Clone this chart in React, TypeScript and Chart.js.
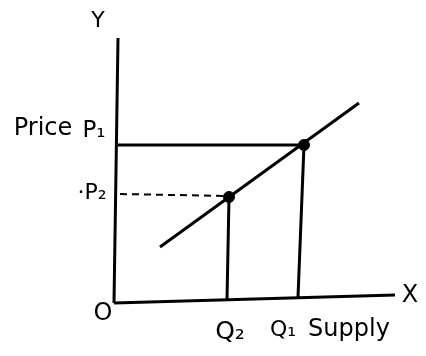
import React, { useEffect, useRef } from "react";
import { Chart, registerables } from "chart.js";

Chart.register(...registerables);

// Quantities and prices (points on the supply curve)
const quantities = [113, 188]; // Q2, Q1
const prices = [105, 157]; // P2, P1
const quantityLabels = ["Q₂", "Q₁"];
const priceLabels = ["·P₂", "P₁"];

// Supply curve end points
const supplyQ = [44, 243];
const supplyP = [55, 199];

// Axis lines (hand-drawn, slightly slanted)
const yAxisQ = [2, -2];
const yAxisP = [264, -1];
const xAxisQ = [-2, 279];
const xAxisP = [-1, 7];

type Lbl = { text: string; x: number; y: number; size: number };
const textLabels: Lbl[] = [
  { text: "Y", x: -18, y: 281, size: 22 },
  { text: "Price", x: -73, y: 173, size: 24 },
  { text: priceLabels[1], x: -22, y: 171, size: 23 },
  { text: priceLabels[0], x: -24, y: 109, size: 22 },
  { text: "O", x: -13, y: -12, size: 24 },
  { text: "X", x: 294, y: 6, size: 24 },
  { text: quantityLabels[0], x: 114, y: -30, size: 25 },
  { text: quantityLabels[1], x: 167, y: -28, size: 22 },
  { text: "Supply", x: 233, y: -28, size: 24 },
];

const pts = (xs: number[], ys: number[]) => xs.map((x, i) => ({ x, y: ys[i] }));

export default function App() {
  const ref = useRef<HTMLCanvasElement | null>(null);
  useEffect(() => {
    if (!ref.current) return;
    const line = (data: { x: number; y: number }[], extra: any = {}) => ({
      data,
      showLine: true,
      borderColor: "#000",
      backgroundColor: "#000",
      borderWidth: 3,
      pointRadius: 0,
      ...extra,
    });
    const labelPlugin = {
      id: "labels",
      afterDraw(chart: any) {
        const { ctx, scales } = chart;
        ctx.save();
        ctx.fillStyle = "#000";
        ctx.textAlign = "center";
        ctx.textBaseline = "middle";
        for (const l of textLabels) {
          ctx.font = `${l.size}px "DejaVu Sans"`;
          ctx.fillText(l.text, scales.x.getPixelForValue(l.x), scales.y.getPixelForValue(l.y));
        }
        ctx.restore();
      },
    };
    const chart = new Chart(ref.current, {
      type: "scatter",
      data: {
        datasets: [
          line(pts(yAxisQ, yAxisP)),
          line(pts(xAxisQ, xAxisP)),
          line(pts(supplyQ, supplyP)),
          line([{ x: 2, y: prices[1] }, { x: quantities[1], y: prices[1] }]),
          line([{ x: 4, y: prices[0] + 3 }, { x: quantities[0], y: prices[0] + 1 }], {
            borderDash: [7, 5],
            borderWidth: 2,
          }),
          line([{ x: quantities[0] - 2, y: 2 }, { x: quantities[0], y: prices[0] }]),
          line([{ x: quantities[1] - 6, y: 5 }, { x: quantities[1], y: prices[1] }]),
          {
            data: pts(quantities, prices),
            showLine: false,
            pointRadius: 5.5,
            pointBackgroundColor: "#000",
            pointBorderColor: "#000",
          },
        ],
      },
      options: {
        animation: false,
        responsive: false,
        layout: { padding: { left: 100, right: 26, top: 20, bottom: 36 } },
        plugins: { legend: { display: false }, tooltip: { enabled: false } },
        scales: {
          x: { type: "linear", min: -16, max: 284, display: false },
          y: { type: "linear", min: -18, max: 282, display: false },
        },
      },
      plugins: [labelPlugin],
    } as any);
    return () => chart.destroy();
  }, []);
  return (
    <div style={{ position: "fixed", left: 0, top: 0, width: 426, height: 356, background: "#fff" }}>
      <canvas ref={ref} width={426} height={356} />
    </div>
  );
}
